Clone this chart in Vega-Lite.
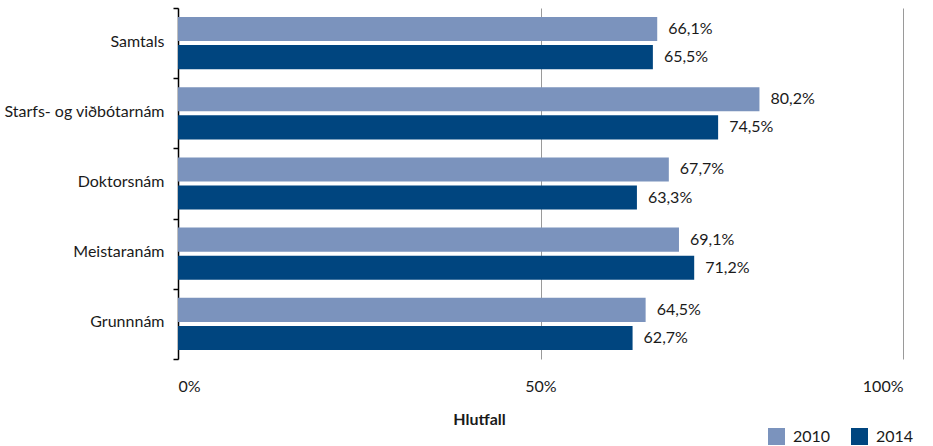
{
  "$schema": "https://vega.github.io/schema/vega-lite/v6.json",
  "autosize": "none",
  "width": 725,
  "height": 351,
  "padding": {"left": 178, "top": 8, "right": 30, "bottom": 87},
  "background": "white",
  "config": {
    "locale": {"number": {"decimal": ",", "thousands": ".", "grouping": [3], "currency": ["", " kr."]}},
    "font": "Lato",
    "view": {"stroke": null}
  },
  "data": {
    "values": [
      {"flokkur": "Samtals", "ar": "2010", "hlutfall": 0.661},
      {"flokkur": "Samtals", "ar": "2014", "hlutfall": 0.655},
      {"flokkur": "Starfs- og viðbótarnám", "ar": "2010", "hlutfall": 0.802},
      {"flokkur": "Starfs- og viðbótarnám", "ar": "2014", "hlutfall": 0.745},
      {"flokkur": "Doktorsnám", "ar": "2010", "hlutfall": 0.677},
      {"flokkur": "Doktorsnám", "ar": "2014", "hlutfall": 0.633},
      {"flokkur": "Meistaranám", "ar": "2010", "hlutfall": 0.691},
      {"flokkur": "Meistaranám", "ar": "2014", "hlutfall": 0.712},
      {"flokkur": "Grunnnám", "ar": "2010", "hlutfall": 0.645},
      {"flokkur": "Grunnnám", "ar": "2014", "hlutfall": 0.627}
    ]
  },
  "encoding": {
    "y": {
      "field": "flokkur",
      "type": "nominal",
      "sort": ["Samtals", "Starfs- og viðbótarnám", "Doktorsnám", "Meistaranám", "Grunnnám"],
      "scale": {"paddingInner": 0, "paddingOuter": 0},
      "axis": {
        "title": null,
        "tickBand": "extent",
        "domainColor": "#000000",
        "domainWidth": 1.5,
        "tickColor": "#000000",
        "tickWidth": 1.5,
        "tickSize": 5,
        "labelFont": "Lato",
        "labelFontSize": 16,
        "labelColor": "#1a1a1a",
        "labelPadding": 9,
        "labelOffset": -2
      }
    },
    "yOffset": {
      "field": "ar",
      "type": "nominal",
      "scale": {"paddingInner": 0.143, "paddingOuter": 0.32}
    },
    "x": {
      "field": "hlutfall",
      "type": "quantitative",
      "scale": {"domain": [0, 1], "nice": false},
      "axis": {
        "values": [0, 0.5, 1],
        "format": ".0%",
        "domain": false,
        "ticks": false,
        "grid": true,
        "gridColor": "#9a9a9a",
        "gridWidth": 1,
        "labelFont": "Lato",
        "labelFontSize": 16,
        "labelColor": "#1a1a1a",
        "labelPadding": 19,
        "title": "Hlutfall",
        "titleFont": "Lato",
        "titleFontSize": 16,
        "titleFontWeight": "bold",
        "titleColor": "#1a1a1a",
        "titleX": 301,
        "titleY": 60,
        "titleBaseline": "middle"
      }
    }
  },
  "layer": [
    {
      "mark": {"type": "bar"},
      "encoding": {
        "color": {
          "field": "ar",
          "type": "nominal",
          "scale": {"domain": ["2010", "2014"], "range": ["#7b93bd", "#00457f"]},
          "legend": {
            "title": null,
            "orient": "none",
            "direction": "horizontal",
            "legendX": 590,
            "legendY": 420,
            "symbolType": "square",
            "symbolSize": 289,
            "symbolStrokeWidth": 0,
            "symbolOpacity": 1,
            "labelFont": "Lato",
            "labelFontSize": 16,
            "labelColor": "#1a1a1a",
            "columnPadding": 20,
            "labelOffset": 8
          }
        }
      }
    },
    {
      "mark": {"type": "text", "align": "left", "baseline": "middle", "dx": 11, "font": "Lato", "fontSize": 16, "color": "#1a1a1a"},
      "encoding": {
        "text": {"field": "hlutfall", "type": "quantitative", "format": ".1%"}
      }
    }
  ]
}
